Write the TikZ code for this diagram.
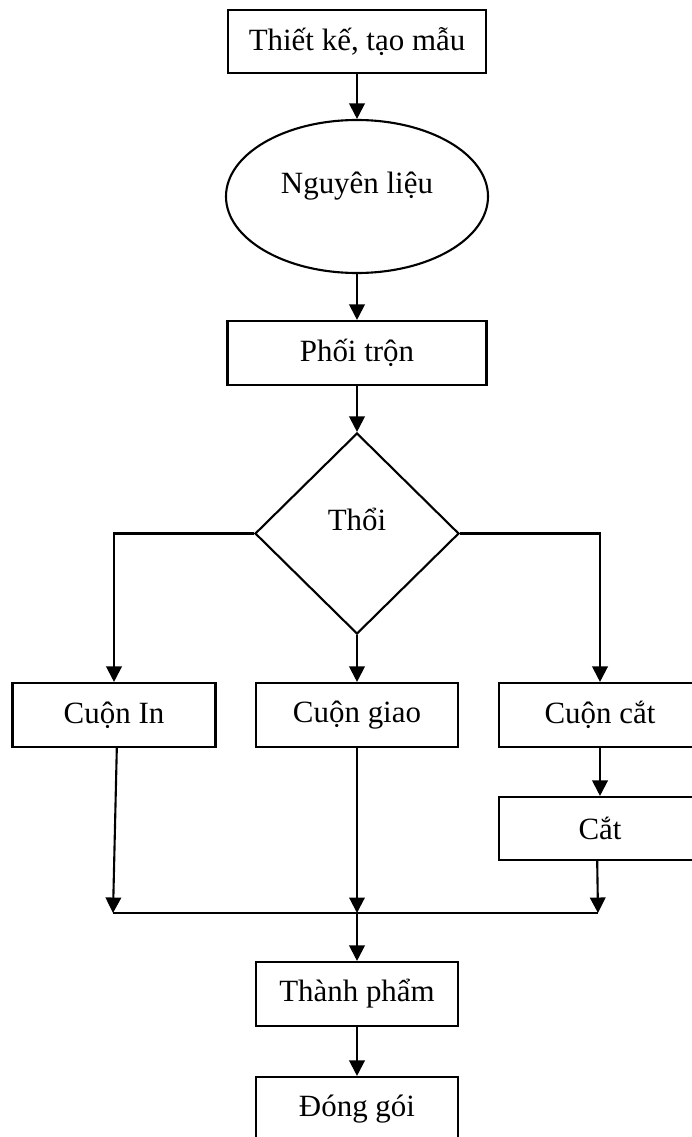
\documentclass[tikz,border=0pt]{standalone}
\usepackage{fontspec}
\setmainfont{Liberation Serif}
\usetikzlibrary{arrows.meta,shapes.geometric}
\tikzset{
    box/.style={draw, line width=1.5pt, inner sep=0pt, minimum width=202*0.025cm, minimum height=64*0.025cm},
    oval/.style={draw, ellipse, line width=1.5pt, inner sep=0pt, minimum width=262*0.025cm, minimum height=153*0.025cm, text height=15pt, text depth=19pt},
    choice/.style={draw, diamond, line width=1.5pt, inner sep=0pt, minimum width=204*0.025cm, minimum height=201*0.025cm, text height=15pt, text depth=19pt},
    arr/.style={line width=1.5pt, -{Triangle[length=11pt, width=11pt]}}
}

\begin{document}
\begin{tikzpicture}[x=0.025cm, y=-0.025cm, font=\fontsize{22}{26}\selectfont]
    \useasboundingbox (0, 0) rectangle (691, 1137);
    \node[box, minimum width=258*0.025cm, minimum height=63*0.025cm] (design) at (357, 41.5) {Thiết kế, tạo mẫu};
    \node[oval] (material) at (357, 196.5) {Nguyên liệu};
    \node[box, minimum width=259*0.025cm] (mix) at (357, 353) {Phối trộn};
    \node[choice] (blow) at (357, 533.5) {Thổi};
    \node[box, minimum width=203*0.025cm] (printroll) at (114, 715) {Cuộn In};
    \node[box] (deliverroll) at (357, 715) {Cuộn giao};
    \node[box] (cutroll) at (600, 715) {Cuộn cắt};
    \node[box, minimum height=63*0.025cm] (cut) at (600, 828.5) {Cắt};
    \node[box] (product) at (357, 994) {Thành phẩm};
    \node[box] (pack) at (357, 1109) {Đóng gói};
    % collecting line
    \coordinate (ml) at (113, 913);
    \coordinate (mm) at (357, 913);
    \coordinate (mr) at (598, 913);
    \draw[line width=1.5pt] (ml) -- (mr);
    \draw[arr] (design) -- (material);
    \draw[arr] (material) -- (mix);
    \draw[arr] (mix) -- (blow);
    \draw[arr] (blow.west) -| (printroll.north);
    \draw[arr] (blow.south) -- (deliverroll.north);
    \draw[arr] (blow.east) -| (cutroll.north);
    \draw[arr] (cutroll) -- (cut);
    \draw[arr] ([xshift=2]printroll.south) -- (ml);
    \draw[arr] (deliverroll.south) -- (mm);
    \draw[arr] ([xshift=-2]cut.south) -- (mr);
    \draw[arr] (mm) -- (product.north);
    \draw[arr] (product) -- (pack);
\end{tikzpicture}
\end{document}
